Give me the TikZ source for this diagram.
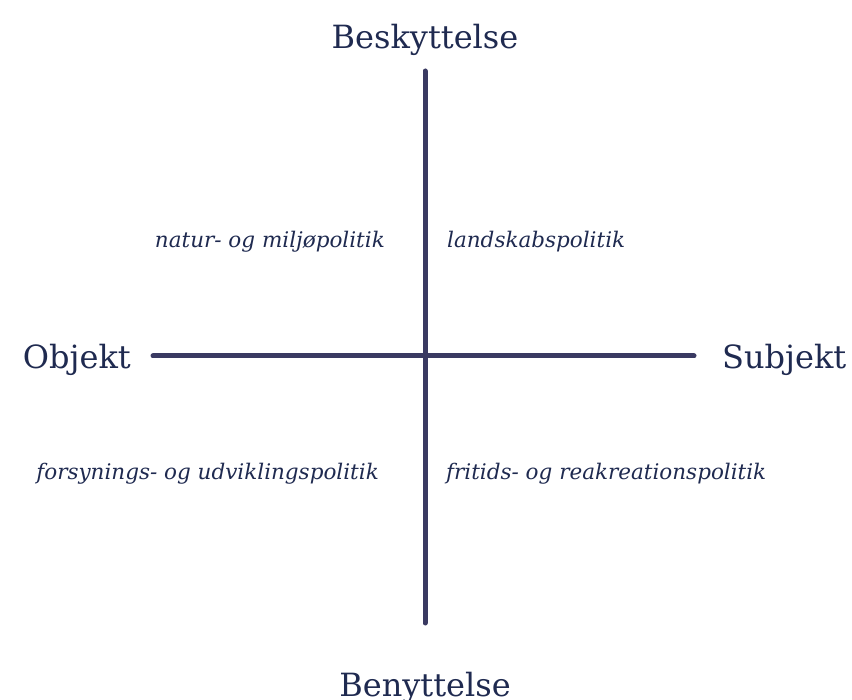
\documentclass[tikz,border=0pt]{standalone}
\usepackage{fontspec}
\setmainfont{DejaVu Serif}
\definecolor{ink}{HTML}{1F2A50}
\definecolor{axisc}{HTML}{3A3A62}
\begin{document}
\begin{tikzpicture}[x=1pt,y=-1pt,
  axisline/.style={draw=axisc,line width=5pt,line cap=round},
  polelabel/.style={text=ink,font=\fontsize{32}{38}\selectfont,inner sep=0pt},
  quadlabel/.style={text=ink,font=\itshape\fontsize{21.5}{26}\selectfont,inner sep=0pt}]
\useasboundingbox (0,0) rectangle (852,700);
% axes
\coordinate (top) at (425,71);
\coordinate (bottom) at (425,623);
\coordinate (left) at (153,356);
\coordinate (right) at (694,356);
\draw[axisline] (top) -- (bottom);
\draw[axisline] (left) -- (right);
% pole labels
\node[polelabel,anchor=base] (besk) at (425,49) {Beskyttelse};
\node[polelabel,anchor=base] (beny) at (425,696) {Benyttelse};
\node[polelabel,anchor=base east] (obj) at (131,369) {Objekt};
\node[polelabel,anchor=base west] (subj) at (722,369) {Subjekt};
% quadrant labels
\node[quadlabel,anchor=base east] (q1) at (385,248) {natur- og miljøpolitik};
\node[quadlabel,anchor=base west] (q2) at (447,248) {landskabspolitik};
\node[quadlabel,anchor=base east] (q3) at (379,480) {forsynings- og udviklingspolitik};
\node[quadlabel,anchor=base west] (q4) at (446,480) {fritids- og reakreationspolitik};
\end{tikzpicture}
\end{document}
